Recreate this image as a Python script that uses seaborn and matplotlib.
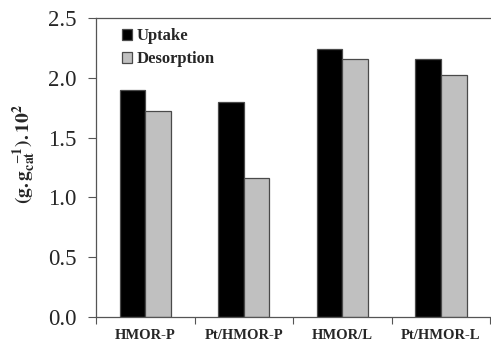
import matplotlib
matplotlib.use("Agg")
import matplotlib.pyplot as plt
import seaborn as sns
import pandas as pd

samples = ["HMOR-P", "Pt/HMOR-P", "HMOR/L", "Pt/HMOR-L"]
uptake = [1.90, 1.80, 2.24, 2.16]
desorption = [1.72, 1.16, 2.16, 2.02]
series = ["Uptake", "Desorption"]
y_ticks = [0.0, 0.5, 1.0, 1.5, 2.0, 2.5]

df = pd.DataFrame({
    "sample": samples * 2,
    "value": uptake + desorption,
    "series": [series[0]] * len(samples) + [series[1]] * len(samples),
})

sns.set_style("white")
plt.rcParams["font.family"] = ["Liberation Serif", "DejaVu Serif"]
plt.rcParams["mathtext.fontset"] = "stix"

fig = plt.figure(figsize=(4.91, 3.49), dpi=100)
ax = fig.add_axes([0.1955, 0.0917, 0.803, 0.857])

sns.barplot(data=df, x="sample", y="value", hue="series", order=samples,
            hue_order=series, palette=["black", "#c0c0c0"], width=0.52,
            edgecolor="#4a4a4a", linewidth=0.9, errorbar=None, ax=ax)

ax.set_xlim(-0.5, 3.5)
ax.set_ylim(0, 2.5)
ax.set_yticks(y_ticks)
ax.set_yticklabels([f"{v:.1f}" for v in y_ticks], fontsize=16.5)

# category boundaries carry the ticks, names sit between them
ax.set_xticks([-0.5, 0.5, 1.5, 2.5, 3.5])
ax.set_xticklabels([])
ax.set_xticks(range(len(samples)), minor=True)
ax.set_xticklabels(samples, minor=True, fontsize=10.5, fontweight="bold")
ax.tick_params(axis="x", which="major", direction="out", length=5, width=0.8,
               color="#555555", bottom=True)
ax.tick_params(axis="x", which="minor", length=0, pad=9)
ax.tick_params(axis="y", direction="out", length=6, width=0.8,
               color="#555555", left=True, pad=8)

for side in ["left", "bottom", "top"]:
    ax.spines[side].set_visible(True)
    ax.spines[side].set_color("#555555")
    ax.spines[side].set_linewidth(0.9)
ax.spines["right"].set_visible(False)

ax.set_xlabel("")
ax.set_ylabel(r"$\mathbf{(g.g_{cat}^{\ \ \mathsf{-}1}).10^{2}}$", fontsize=14)
ax.yaxis.set_label_coords(-0.148, 0.545)

leg = ax.legend(loc="upper left", bbox_to_anchor=(0.028, 1.015), frameon=False,
                handlelength=0.6, handleheight=0.6, handletextpad=0.3,
                labelspacing=0.4, prop={"weight": "bold", "size": 12})
for h in leg.legend_handles:
    h.set_edgecolor("#4a4a4a")

fig.savefig("out.png", dpi=100)
